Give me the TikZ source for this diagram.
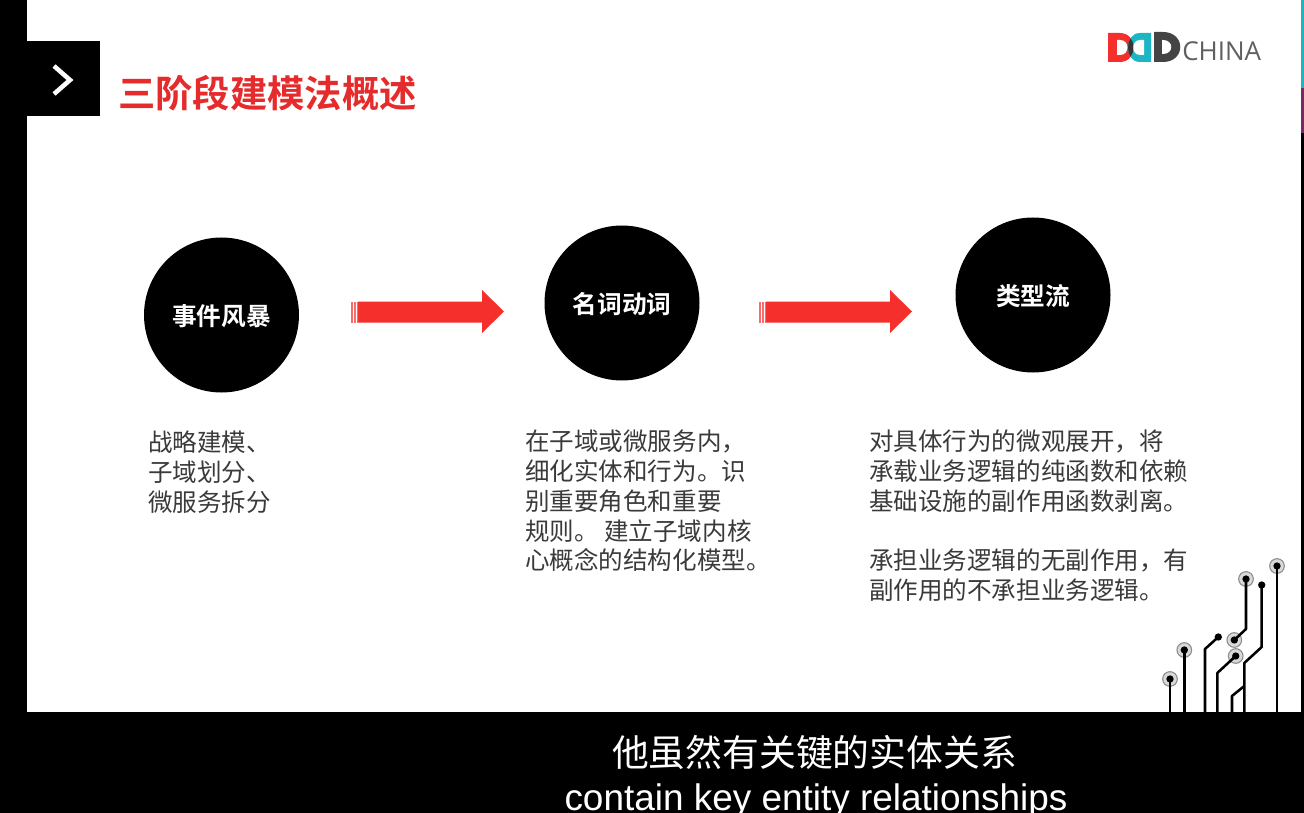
\documentclass[tikz,border=0pt]{standalone}
\usepackage{fontspec}
\setmainfont{Noto Sans CJK SC}
\newfontfamily\cjkb{Noto Sans CJK SC Bold}
\newfontfamily\cjkl{Noto Sans CJK SC}
\newfontfamily\latin{Liberation Sans}
\newfontfamily\logofont{Open Sans}
\definecolor{dddred}{HTML}{F42F2C}
\definecolor{titlered}{HTML}{E52B2B}
\definecolor{dddcyan}{HTML}{1BB5C4}
\definecolor{ddddark}{HTML}{444444}
\definecolor{bodygrey}{HTML}{3A3A3A}
\definecolor{stripviolet}{HTML}{7A2A63}
\tikzset{
  x=0.75pt,y=-0.75pt,
  stage/.style={circle,fill=black,minimum size=116.25pt,inner sep=0pt,text=white,text height=18pt,text depth=2pt,font=\cjkb\fontsize{18.5}{18.5}\selectfont},
  body/.style={anchor=north west,inner sep=0pt,text=bodygrey,align=left,font=\cjkl\fontsize{18.4}{22.3}\selectfont},
  flow/.style={fill=dddred,draw=none},
  flowbar/.style={fill=dddred!70!white,draw=none},
  trace/.style={draw=black,line width=1.9pt,line join=round},
  halo/.style={circle,draw=black!45,line width=.8pt,fill=black!15,minimum size=11pt,inner sep=0pt},
  pad/.style={circle,fill=black,minimum size=5.5pt,inner sep=0pt}
}
\begin{document}
\begin{tikzpicture}
\useasboundingbox (0,0) rectangle (1304,813);
\fill[white] (0,0) rectangle (1304,813);
\fill[black] (0,0) rectangle (27,813);
\fill[black] (0,712) rectangle (1304,813);
\fill[black] (27,41) rectangle (100,116.5);
\fill[dddcyan] (1301,0) rectangle (1304,88);
\fill[stripviolet] (1301,88) rectangle (1304,133);
\fill[black] (1301,133) rectangle (1304,712);
\draw[white,line width=3.4pt,line join=miter] (54,66) -- (70,80) -- (54,94);
\node[anchor=west,inner sep=0pt,text=titlered,font=\cjkb\fontsize{28}{28}\selectfont] (title) at (118,93) {三阶段建模法概述};

% logo
\def\redD{(1108,33) -- (1120,33) .. controls (1138,33) and (1138,62) .. (1120,62) -- (1108,62) -- cycle}
\def\cyanD{(1151,33) -- (1140,33) .. controls (1124,33) and (1124,62) .. (1140,62) -- (1151,62) -- cycle}
\fill[dddred] \redD;
\fill[dddcyan] \cyanD;
\begin{scope}
\clip \redD;
\fill[ddddark!80!black] \cyanD;
\end{scope}
\fill[white] (1117,40) -- (1120,40) .. controls (1130,40) and (1130,55) .. (1120,55) -- (1117,55) -- cycle;
\fill[white] (1144,40) -- (1140,40) .. controls (1131,40) and (1131,55) .. (1140,55) -- (1144,55) -- cycle;
\fill[ddddark] (1154,32) -- (1163,32) .. controls (1186,32) and (1186,62) .. (1163,62) -- (1154,62) -- cycle;
\fill[white] (1162,40) -- (1163,40) .. controls (1174,40) and (1174,54) .. (1163,54) -- (1162,54) -- cycle;
\node[anchor=west,inner sep=0pt,text=ddddark!85,font=\logofont\fontsize{19.5}{20}\selectfont] (logo) at (1182,51) {CHINA};

% stages
\node[stage] (s1) at (221.5,315) {事件风暴};
\node[stage] (s2) at (622,303) {名词动词};
\node[stage] (s3) at (1033,295) {类型流};

% arrows
\foreach \a in {351,759}{
  \fill[flow] (\a+7,301.5) -- (\a+131,301.5) -- (\a+131,290) -- (\a+153,311.5) -- (\a+131,333) -- (\a+131,322.5) -- (\a+7,322.5) -- cycle;
  \fill[flowbar] (\a,301.5) rectangle (\a+1.5,322.5);
  \fill[flowbar] (\a+3,301.5) rectangle (\a+4.5,322.5);
  \fill[flowbar] (\a+5.5,301.5) rectangle (\a+7,322.5);
}

% texts
\node[body] (t1) at (148,431) {战略建模、\\子域划分、\\微服务拆分};
\node[body] (t2) at (525,430) {在子域或微服务内，\\细化实体和行为。识\\别重要角色和重要\\规则。 建立子域内核\\心概念的结构化模型。};
\node[body] (t3) at (869,430) {对具体行为的微观展开，将\\承载业务逻辑的纯函数和依赖\\基础设施的副作用函数剥离。\\[22.3pt]承担业务逻辑的无副作用，有\\副作用的不承担业务逻辑。};

% circuit
\coordinate (g1) at (1170,712); \coordinate (g2) at (1184.3,712); \coordinate (g3) at (1205,712);
\coordinate (g4) at (1217.3,712); \coordinate (g5) at (1232,712); \coordinate (g6) at (1244.3,712); \coordinate (g7) at (1277,712);
\node[halo] (h1) at (1170,679) {};
\node[halo] (h2) at (1184.3,650) {};
\node[halo] (h4) at (1235.7,656) {};
\node[halo] (h5) at (1234.3,640) {};
\node[halo] (h6) at (1246,579) {};
\node[halo] (h8) at (1277,566) {};
\node[pad] (p1) at (h1) {};
\node[pad] (p2) at (h2) {};
\node[pad] (p3) at (1218.3,637) {};
\node[pad] (p4) at (h4) {};
\node[pad] (p5) at (h5) {};
\node[pad] (p6) at (h6) {};
\node[pad] (p7) at (1261.7,585) {};
\node[pad] (p8) at (h8) {};
\draw[trace] (p1.center) -- (g1);
\draw[trace] (p2.center) -- (g2);
\draw[trace] (p3.center) -- (1205,649) -- (g3);
\draw[trace] (p4.center) -- (1217.3,673) -- (g4);
\draw[trace] (p5.center) -- (1246,629) -- (p6.center);
\draw[trace] (p7.center) -- (1261.7,647) -- (1244.3,663) -- (g6);
\draw[trace] (1244.3,686) -- (1232,696) -- (g5);
\draw[trace] (p8.center) -- (g7);

% subtitles
\node[inner sep=0pt,text=white,font=\cjkl\fontsize{27.6}{28}\selectfont] (sub1) at (814.5,752) {他虽然有关键的实体关系};
\node[inner sep=0pt,text=white,font=\latin\fontsize{27.7}{28}\selectfont] (sub2) at (816,801) {contain key entity relationships};
\end{tikzpicture}
\end{document}
